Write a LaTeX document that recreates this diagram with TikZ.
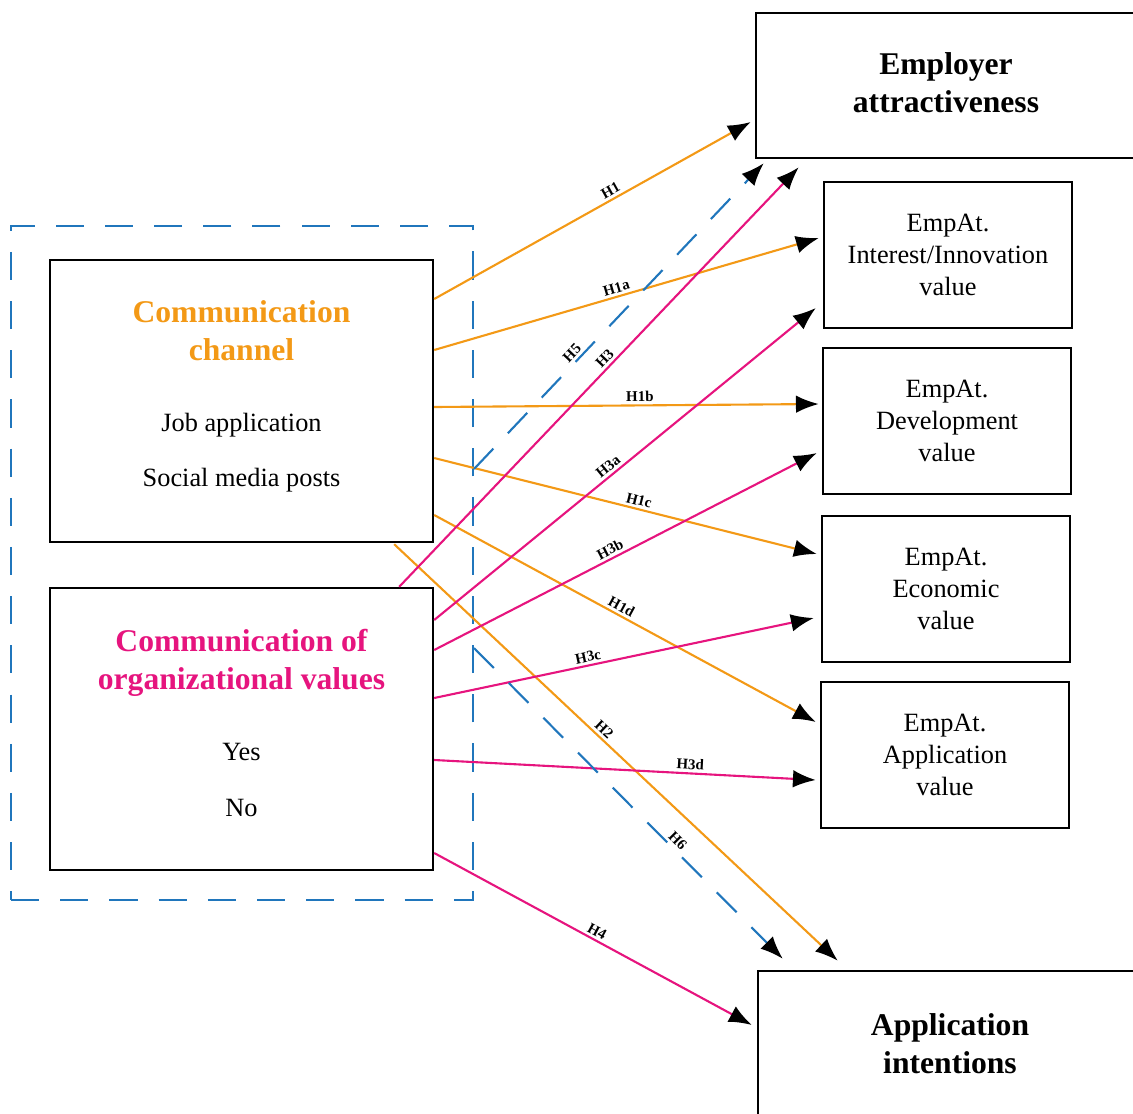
\documentclass[tikz,border=0pt]{standalone}
\usepackage{fontspec}
\setmainfont{Liberation Serif}
\usetikzlibrary{arrows.meta, calc, positioning}
\definecolor{chanOrange}{RGB}{243,153,22}
\definecolor{valPink}{RGB}{230,20,126}
\definecolor{modBlue}{RGB}{32,118,188}
\tikzstyle{box}= [draw=black, line width=1.4pt, align=center]
\tikzstyle{Box}= [box, minimum width=4.96cm, minimum height=2.92cm, font=\fontsize{15}{18}\selectfont]
\tikzstyle{Main}= [box, font=\bfseries\fontsize{18}{21.5}\selectfont]
\tikzstyle{Pred}= [box, minimum width=7.66cm, minimum height=5.64cm, font=\fontsize{15}{18}\selectfont]
\tikzstyle{group}= [draw=modBlue, line width=1.2pt, dash pattern=on 16pt off 12pt]
\tikzstyle{chanline}= [->, draw=chanOrange, line width=1.2pt]
\tikzstyle{valline}= [->, draw=valPink, line width=1.2pt]
\tikzstyle{modline}= [->, draw=modBlue, line width=1.2pt, dash pattern=on 16pt off 12pt]
\tikzstyle{lbl}= [sloped, above, inner sep=1.5pt, font=\bfseries\fontsize{8.5}{9}\selectfont, text=black]
\newcommand{\chanttl}[1]{{\bfseries\fontsize{18}{21.5}\selectfont\color{chanOrange}#1}}
\newcommand{\valttl}[1]{{\bfseries\fontsize{18}{21.5}\selectfont\color{valPink}#1}}

\begin{document}
\begin{tikzpicture}[x=0.02cm, y=-0.02cm, >={Latex[length=13pt, width=10pt, color=black]}]
    \useasboundingbox (0,0) rectangle (1133,1113);

    % outcomes
    \node [Main, minimum width=7.6cm, minimum height=2.9cm, text depth=3pt] (emp) at (946,85.5) {Employer\\attractiveness};
    \node [Box] (intv) at (948,255) {EmpAt.\\Interest/Innovation\\value};
    \node [Box] (devv) at (947,421) {EmpAt.\\Development\\value};
    \node [Box] (ecov) at (946,589) {EmpAt.\\Economic\\value};
    \node [Box] (appv) at (945,755) {EmpAt.\\Application\\value};
    \node [Main, minimum width=7.68cm, minimum height=3cm, text depth=3pt] (intent) at (950,1046) {Application\\intentions};

    % predictors
    \node [Pred, text depth=8.5pt] (chan) at (241.5,401) {\chanttl{Communication}\\[3.5pt]\chanttl{channel}\\[22.5pt]Job application\\[13.5pt]Social media posts};
    \node [Pred, text depth=7pt] (org) at (241.5,729) {\valttl{Communication of}\\[3.5pt]\valttl{organizational values}\\[22.5pt]Yes\\[13.5pt]No};
    \node [group, minimum width=9.24cm, minimum height=13.48cm] (grp) at (242,563) {};

    % channel paths
    \draw[chanline] ($(chan.east)+(0,-102)$) -- ($(emp.west)+(-4,36.5)$) node[lbl, pos=.57] {H1};
    \draw[chanline] ($(chan.east)+(0,-51)$) -- ($(intv.west)+(-4,-17)$) node[lbl, pos=.48] {H1a};
    \draw[chanline] ($(chan.east)+(0,6)$) -- ($(devv.west)+(-3,-17)$) node[lbl, pos=.535] {H1b};
    \draw[chanline] ($(chan.east)+(0,57)$) -- ($(ecov.west)+(-4,-35)$) node[lbl, pos=.53] {H1c};
    \draw[chanline] ($(chan.east)+(0,114)$) -- ($(appv.west)+(-4,-33)$) node[lbl, pos=.48] {H1d};
    \draw[chanline] ($(chan.south east)+(-40,1)$) -- ($(intent.north west)+(81,-9)$) node[lbl, pos=.46] {H2};

    % values paths
    \draw[valline] ($(org.north east)+(-35,0)$) -- ($(emp.south west)+(44,8)$) node[lbl, pos=.53] {H3};
    \draw[valline] ($(org.east)+(0,-109)$) -- ($(intv.west)+(-7,53)$) node[lbl, pos=.47] {H3a};
    \draw[valline] ($(org.east)+(0,-79)$) -- ($(devv.west)+(-5,32)$) node[lbl, pos=.47] {H3b};
    \draw[valline] ($(org.east)+(0,-31)$) -- ($(ecov.west)+(-7,29)$) node[lbl, pos=.41] {H3c};
    \draw[valline] ($(org.east)+(0,31)$) -- ($(appv.west)+(-4,25)$) node[lbl, pos=.67] {H3d};
    \draw[valline] ($(org.east)+(0,124)$) -- ($(intent.west)+(-5,-21)$) node[lbl, pos=.5] {H4};

    % moderation paths
    \draw[modline] ($(grp.east)+(0,-94)$) -- ($(emp.south west)+(9,4)$) node[lbl, pos=.36] {H5};
    \draw[modline] ($(grp.east)+(0,85)$) -- ($(intent.north west)+(26,-11)$) node[lbl, pos=.64] {H6};

\end{tikzpicture}
\end{document}
